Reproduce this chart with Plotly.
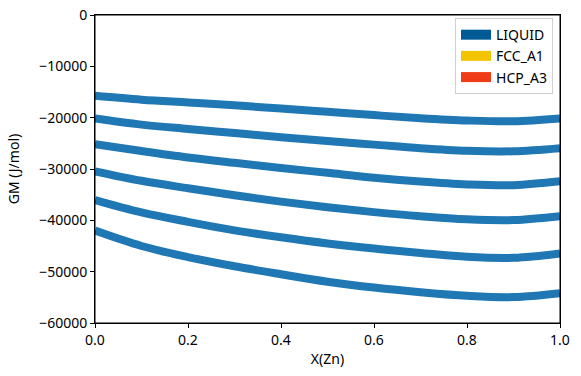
import plotly.graph_objects as go

x_zn = [0.0, 0.1, 0.2, 0.3, 0.4, 0.5, 0.6, 0.7, 0.8, 0.9, 1.0]

gm_1 = [-15750, -16500, -17050, -17600, -18200, -18850, -19500, -20100, -20550, -20700, -20150]
gm_2 = [-20150, -21350, -22200, -23000, -23800, -24550, -25250, -25950, -26450, -26550, -25950]
gm_3 = [-25150, -26500, -27750, -28800, -29800, -30750, -31700, -32450, -33000, -33150, -32400]
gm_4 = [-30450, -32300, -33750, -35100, -36350, -37450, -38400, -39200, -39800, -39950, -39200]
gm_5 = [-36050, -38450, -40300, -41950, -43300, -44500, -45500, -46350, -47100, -47300, -46450]
gm_6 = [-42000, -45000, -47150, -48950, -50500, -51950, -53100, -54000, -54700, -54950, -54200]
curves = [gm_1, gm_2, gm_3, gm_4, gm_5, gm_6]

legend_names = ["LIQUID", "FCC_A1", "HCP_A3"]
legend_colors = ["#005a96", "#f2c300", "#f03c18"]

y_ticks = [0, -10000, -20000, -30000, -40000, -50000, -60000]
y_tick_text = ["0" if v == 0 else "\u2212" + str(abs(v)) for v in y_ticks]
x_ticks = [0.0, 0.2, 0.4, 0.6, 0.8, 1.0]

FONT = "Noto Sans, DejaVu Sans, sans-serif"

fig = go.Figure()
for c in curves:
    fig.add_trace(go.Scatter(x=x_zn, y=c, mode="lines", line=dict(color="#1f77b4", width=8, shape="spline"),
                             showlegend=False, hoverinfo="skip"))
for name, col in zip(legend_names, legend_colors):
    fig.add_trace(go.Scatter(x=[None], y=[None], mode="lines", line=dict(color=col, width=10), name=name))

axis_common = dict(showline=True, linecolor="black", linewidth=1, mirror=True, ticks="outside",
                   ticklen=4, tickwidth=1, tickcolor="black", showgrid=False, zeroline=False,
                   automargin=False, ticklabeloverflow="allow",
                   tickfont=dict(size=14, color="black", family=FONT))

fig.update_layout(
    width=581, height=376,
    margin=dict(l=95, r=21, t=15, b=53),
    paper_bgcolor="white", plot_bgcolor="white",
    font=dict(family=FONT, size=14, color="black"),
    xaxis=dict(range=[0, 1], tickvals=x_ticks, tickformat=".1f",
               title=dict(text="X(Zn)", font=dict(size=14), standoff=6), **axis_common),
    yaxis=dict(range=[-60000, 0], tickvals=y_ticks, ticktext=y_tick_text,
               title=dict(text="GM (J/mol)", font=dict(size=14), standoff=16), **axis_common),
    legend=dict(x=0.985, y=0.99, xanchor="right", yanchor="top", bgcolor="white",
                bordercolor="#d0d0d0", borderwidth=1, font=dict(size=14, family=FONT),
                itemwidth=30, tracegroupgap=0),
    shapes=[dict(type="rect", xref="paper", yref="paper", x0=0, y0=0, x1=1, y1=1,
                 line=dict(color="black", width=1), layer="above")],
    showlegend=True,
)

fig.write_html("out.html", post_script="document.body.style.margin='0';",
               config={"displayModeBar": False})
